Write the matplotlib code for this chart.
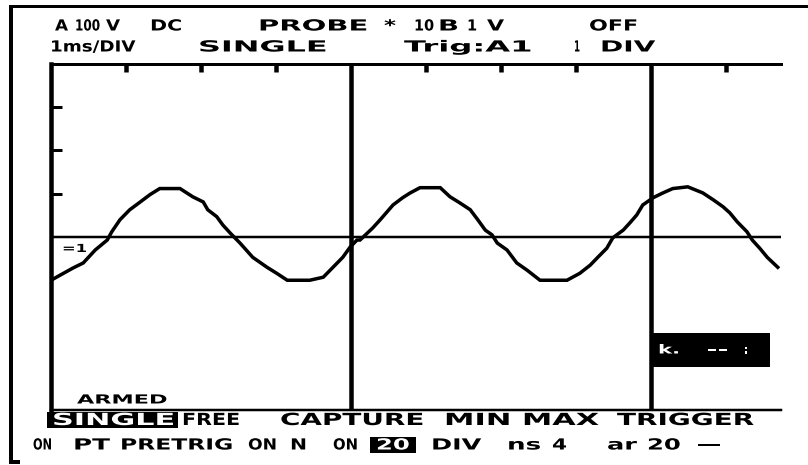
import matplotlib
matplotlib.use("Agg")
import matplotlib.pyplot as plt
from matplotlib.patches import Rectangle
from matplotlib.lines import Line2D
from matplotlib.patheffects import AbstractPathEffect
from matplotlib.transforms import Affine2D

# ---------------- data (in screen divisions) ----------------
wave_x = [0.0, 0.29, 0.43, 0.59, 0.75, 0.81, 0.92, 1.05, 1.19, 1.32, 1.45, 1.72, 1.89, 2.03,
          2.09, 2.21, 2.29, 2.39, 2.52, 2.69, 2.88, 3.01, 3.15, 3.45, 3.63, 3.76, 3.89, 3.99,
          4.08, 4.12, 4.29, 4.39, 4.48, 4.56, 4.69, 4.79, 4.92, 5.19, 5.32, 5.45, 5.59, 5.69,
          5.79, 5.88, 5.95, 6.08, 6.21, 6.35, 6.52, 6.88, 7.05, 7.19, 7.29, 7.41, 7.49, 7.63,
          7.72, 7.81, 7.89, 8.03, 8.16, 8.29, 8.49, 8.69, 8.83, 8.96, 9.05, 9.15, 9.28, 9.35,
          9.45, 9.55, 9.69]
wave_y = [-1.00, -0.72, -0.60, -0.30, -0.07, 0.12, 0.40, 0.63, 0.81, 0.98, 1.12, 1.12, 0.93,
          0.81, 0.63, 0.47, 0.28, 0.09, -0.14, -0.47, -0.70, -0.84, -1.00, -1.00, -0.93, -0.70,
          -0.47, -0.23, -0.07, -0.07, 0.21, 0.40, 0.58, 0.74, 0.91, 1.02, 1.14, 1.14, 0.93, 0.79,
          0.63, 0.40, 0.16, 0.05, -0.14, -0.30, -0.60, -0.77, -1.00, -1.00, -0.84, -0.65, -0.47,
          -0.26, -0.02, 0.16, 0.33, 0.51, 0.74, 0.91, 1.02, 1.12, 1.16, 1.02, 0.86, 0.70, 0.56,
          0.35, 0.12, -0.07, -0.26, -0.47, -0.70]
grid_x = [4, 8]
top_ticks = [1, 2, 3, 5, 6, 7, 9]
left_ticks = [1, 2, 3]

header1 = ["A", "100", "V", "DC", "PROBE", "*", "10", "B", "1", "V", "OFF"]
header2 = ["1ms/DIV", "SINGLE", "Trig:A1", "1", "DIV"]
menu = ["SINGLE", "FREE", "CAPTURE", "MIN", "MAX", "TRIGGER"]
status = ["ON", "PT", "PRETRIG", "ON", "N", "ON", "20", "DIV", "ns", "4", "ar", "20", "-"]
trace_label = "=1"
armed_label = "ARMED"
readout = ["k.", "--", ":"]

# ---------------- layout ----------------
W, H = 808, 465
PX = 72 / 100.0


def fx(x):
    return x / W


def fy(y):
    return 1 - y / H


class StretchX(AbstractPathEffect):
    """Widen glyphs horizontally (LCD font look) while keeping real text."""

    def __init__(self, sx):
        super().__init__()
        self.sx = sx

    def draw_path(self, renderer, gc, tpath, affine, rgbFace=None):
        x0 = affine.get_matrix()[0, 2]
        new = affine + Affine2D().translate(-x0, 0).scale(self.sx, 1).translate(x0, 0)
        renderer.draw_path(gc, tpath, new, rgbFace)


fig = plt.figure(figsize=(W / 100, H / 100), dpi=100)
fig.patch.set_facecolor("white")

ax = fig.add_axes([fx(51), fy(410), (781 - 51) / W, 346 / H])
ax.set_xlim(0, 730 / 75)
ax.set_ylim(-4, 4)
ax.set_facecolor("white")

ax.plot(wave_x, wave_y, color="black", lw=3.5 * PX, solid_joinstyle="miter")
ax.axhline(0, color="black", lw=2.5 * PX)
for g in grid_x:
    ax.axvline(g, color="black", lw=4.5 * PX)

for s in ["left", "top", "bottom"]:
    ax.spines[s].set_color("black")
ax.spines["left"].set_linewidth(4.5 * PX)
ax.spines["top"].set_linewidth(3 * PX)
ax.spines["bottom"].set_linewidth(2.5 * PX)
ax.spines["right"].set_visible(False)

ax.set_xticks(top_ticks)
ax.set_yticks(left_ticks)
ax.tick_params(axis="x", top=True, bottom=False, labeltop=False, labelbottom=False,
               direction="in", length=8 * PX, width=4.5 * PX, color="black")
ax.tick_params(axis="y", left=True, right=False, labelleft=False,
               direction="in", length=11 * PX, width=3 * PX, color="black")

# outer bracket frame
fig.add_artist(Line2D([fx(11), fx(808)], [fy(6), fy(6)], color="black", lw=3 * PX))
fig.add_artist(Line2D([fx(18), fx(11), fx(11)], [fy(462), fy(462), fy(7)], color="black",
                      lw=4 * PX, solid_joinstyle="miter"))

words = []


def word(label, x0, x1, yc, size, color="black"):
    t = fig.text(fx(x0), fy(yc), label, fontsize=size, family="DejaVu Sans",
                 weight="bold", color=color, va="center", ha="left")
    words.append((t, x1 - x0))


def box(x0, x1, y0, y1):
    fig.add_artist(Rectangle((fx(x0), fy(y1)), (x1 - x0) / W, (y1 - y0) / H,
                             transform=fig.transFigure, facecolor="black",
                             edgecolor="none"))


# header rows
span1 = [(55, 68), (75, 100), (106, 120), (150, 182), (258, 368), (384, 396),
         (414, 434), (438, 459), (467, 477), (487, 504), (589, 638)]
for t, (a, b) in zip(header1, span1):
    word(t, a, b, 26, 11)
span2 = [(50, 135), (198, 327), (404, 532), (574, 580), (600, 655)]
for t, (a, b) in zip(header2, span2):
    word(t, a, b, 47, 11)

# labels inside graticule
word(trace_label, 62, 87, 249, 8)
word(armed_label, 77, 167, 400, 9)

# readout box
box(652, 770, 333, 367)
for t, (a, b) in zip(readout, [(658, 680), (707, 728), (743, 749)]):
    word(t, a, b, 350, 9, color="white")

# menu row
box(47, 178, 412, 428)
spanm = [(52, 175), (182, 240), (280, 424), (444, 511), (522, 599), (617, 754)]
for i, (t, (a, b)) in enumerate(zip(menu, spanm)):
    word(t, a, b, 420, 12, color="white" if i == 0 else "black")

# status row
box(370, 416, 437, 453)
spans = [(33, 52), (73, 110), (120, 233), (248, 277), (290, 307), (333, 358), (376, 410),
         (431, 481), (507, 541), (552, 567), (607, 637), (647, 681), (694, 724)]
for i, (t, (a, b)) in enumerate(zip(status, spans)):
    word(t, a, b, 445, 11, color="white" if i == 6 else "black")

# stretch each word to its measured width on the screen
fig.canvas.draw()
r = fig.canvas.get_renderer()
for t, target in words:
    w = t.get_window_extent(r).width
    if w > 0:
        t.set_path_effects([StretchX(target / w)])

fig.savefig("out.png", dpi=100, facecolor="white")
